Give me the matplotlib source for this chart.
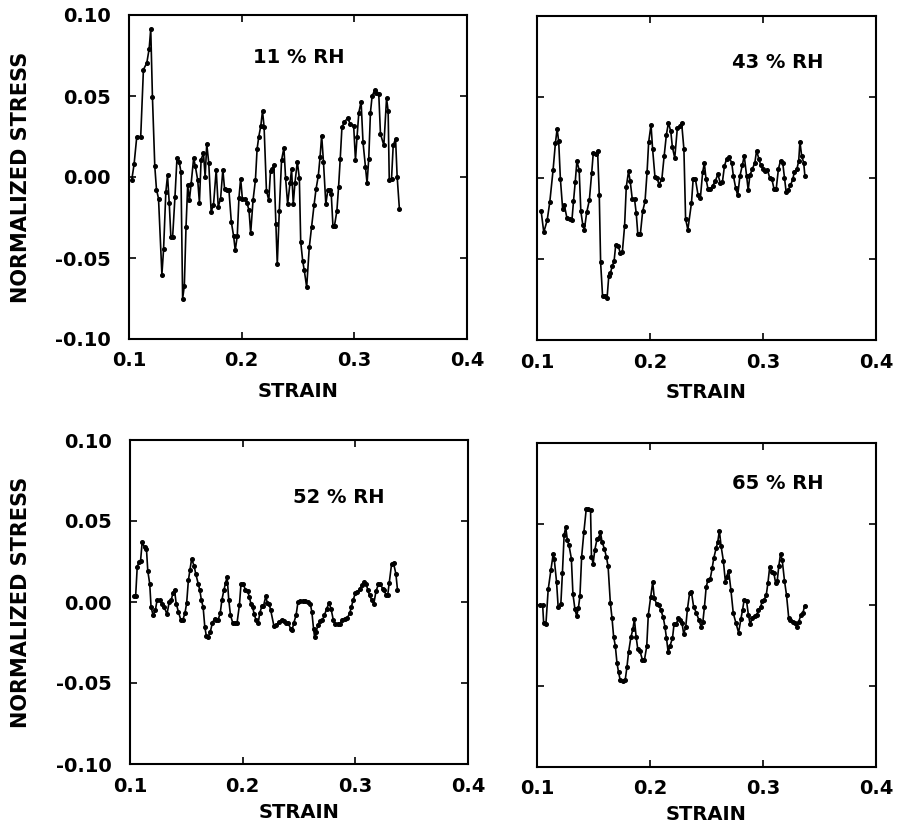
import matplotlib
matplotlib.use("Agg")
import matplotlib.pyplot as plt
from matplotlib.ticker import FixedLocator, FixedFormatter

plt.rcParams['font.family'] = ['DejaVu Sans']
plt.rcParams['font.weight'] = 'bold'

# ---------------- data ----------------
strain_11 = [0.1024, 0.1045, 0.1069, 0.1104, 0.1128, 0.1158, 0.1179, 0.1193, 0.1208, 0.1229,
             0.1244, 0.1262, 0.1292, 0.1307, 0.1327, 0.1342, 0.1357, 0.1372, 0.1387, 0.1408,
             0.1426, 0.1446, 0.1461, 0.1476, 0.1491, 0.1506, 0.1521, 0.1536, 0.1551, 0.1574,
             0.1589, 0.1610, 0.1625, 0.1640, 0.1661, 0.1676, 0.1690, 0.1708, 0.1729, 0.1750,
             0.1774, 0.1792, 0.1813, 0.1833, 0.1848, 0.1869, 0.1887, 0.1908, 0.1929, 0.1943,
             0.1961, 0.1976, 0.1991, 0.2006, 0.2027, 0.2048, 0.2065, 0.2080, 0.2101, 0.2122,
             0.2137, 0.2152, 0.2170, 0.2185, 0.2199, 0.2220, 0.2241, 0.2256, 0.2271, 0.2286,
             0.2304, 0.2316, 0.2334, 0.2354, 0.2375, 0.2390, 0.2408, 0.2429, 0.2443, 0.2458,
             0.2473, 0.2494, 0.2512, 0.2524, 0.2542, 0.2556, 0.2577, 0.2600, 0.2620, 0.2643,
             0.2660, 0.2680, 0.2696, 0.2710, 0.2726, 0.2747, 0.2765, 0.2780, 0.2795, 0.2810,
             0.2824, 0.2845, 0.2860, 0.2875, 0.2890, 0.2910, 0.2940, 0.2964, 0.2994, 0.3010,
             0.3024, 0.3040, 0.3060, 0.3077, 0.3098, 0.3113, 0.3128, 0.3143, 0.3158, 0.3180,
             0.3196, 0.3217, 0.3232, 0.3262, 0.3286, 0.3300, 0.3310, 0.3330, 0.3345, 0.3366,
             0.3380, 0.3400]
stress_11 = [-0.0020, 0.0078, 0.0249, 0.0249, 0.0663, 0.0704, 0.0792, 0.0914, 0.0494, 0.0065,
             -0.0078, -0.0133, -0.0602, -0.0445, -0.0092, 0.0010, -0.0159, -0.0373, -0.0373, -0.0122,
             0.0118, 0.0092, 0.0031, -0.0751, -0.0673, -0.0310, -0.0051, -0.0143, -0.0045, 0.0118,
             0.0065, -0.0020, -0.0159, 0.0108, 0.0147, 0.0000, 0.0204, 0.0086, -0.0214, -0.0173,
             0.0045, -0.0184, -0.0133, 0.0045, -0.0071, -0.0082, -0.0082, -0.0276, -0.0367, -0.0453,
             -0.0363, -0.0127, -0.0010, -0.0133, -0.0133, -0.0163, -0.0204, -0.0347, -0.0143, -0.0020,
             0.0173, 0.0249, 0.0316, 0.0408, 0.0310, -0.0086, -0.0143, 0.0040, 0.0050, 0.0073,
             -0.0290, -0.0540, -0.0210, 0.0104, 0.0180, -0.0008, -0.0167, -0.0035, 0.0047, -0.0167,
             -0.0035, 0.0094, -0.0008, -0.0400, -0.0520, -0.0577, -0.0680, -0.0435, -0.0310, -0.0170,
             -0.0075, 0.0006, 0.0124, 0.0256, 0.0094, -0.0167, -0.0079, -0.0079, -0.0104, -0.0300,
             -0.0300, -0.0210, -0.0063, 0.0114, 0.0307, 0.0337, 0.0364, 0.0327, 0.0317, 0.0104,
             0.0246, 0.0398, 0.0465, 0.0215, 0.0063, -0.0039, 0.0114, 0.0398, 0.0500, 0.0535,
             0.0520, 0.0510, 0.0266, 0.0195, 0.0486, 0.0408, -0.0018, -0.0014, 0.0195, 0.0236,
             0.0002, -0.0197]

strain_43 = [0.1037, 0.1060, 0.1090, 0.1113, 0.1142, 0.1163, 0.1178, 0.1192, 0.1207, 0.1227,
             0.1241, 0.1265, 0.1288, 0.1309, 0.1323, 0.1338, 0.1353, 0.1373, 0.1388, 0.1405,
             0.1419, 0.1440, 0.1463, 0.1484, 0.1498, 0.1519, 0.1536, 0.1551, 0.1563, 0.1580,
             0.1600, 0.1620, 0.1635, 0.1650, 0.1667, 0.1682, 0.1697, 0.1717, 0.1738, 0.1755,
             0.1775, 0.1790, 0.1810, 0.1825, 0.1843, 0.1863, 0.1878, 0.1892, 0.1915, 0.1935,
             0.1956, 0.1974, 0.1988, 0.2009, 0.2023, 0.2044, 0.2061, 0.2081, 0.2105, 0.2125,
             0.2145, 0.2163, 0.2184, 0.2198, 0.2219, 0.2242, 0.2262, 0.2280, 0.2300, 0.2315,
             0.2335, 0.2367, 0.2382, 0.2402, 0.2426, 0.2446, 0.2466, 0.2481, 0.2496, 0.2513,
             0.2534, 0.2554, 0.2577, 0.2601, 0.2621, 0.2641, 0.2659, 0.2679, 0.2699, 0.2723,
             0.2738, 0.2758, 0.2776, 0.2796, 0.2817, 0.2834, 0.2855, 0.2869, 0.2884, 0.2905,
             0.2928, 0.2943, 0.2963, 0.2980, 0.3001, 0.3021, 0.3039, 0.3059, 0.3079, 0.3097,
             0.3117, 0.3137, 0.3155, 0.3175, 0.3190, 0.3205, 0.3225, 0.3243, 0.3263, 0.3278,
             0.3301, 0.3316, 0.3327, 0.3342, 0.3360, 0.3371]
stress_43 = [-0.0206, -0.0335, -0.0261, -0.0150, 0.0047, 0.0216, 0.0302, 0.0226, -0.0006, -0.0191,
             -0.0165, -0.0247, -0.0253, -0.0261, -0.0144, -0.0027, 0.0103, 0.0051, -0.0206, -0.0288,
             -0.0319, -0.0212, -0.0138, 0.0031, 0.0154, 0.0150, 0.0169, -0.0103, -0.0521, -0.0726,
             -0.0730, -0.0741, -0.0607, -0.0586, -0.0541, -0.0514, -0.0412, -0.0418, -0.0463, -0.0459,
             -0.0298, -0.0056, 0.0041, -0.0021, -0.0130, -0.0130, -0.0216, -0.0344, -0.0344, -0.0206,
             -0.0144, 0.0035, 0.0220, 0.0329, 0.0179, 0.0006, 0.0000, -0.0041, -0.0006, 0.0134,
             0.0267, 0.0340, 0.0288, 0.0191, 0.0123, 0.0309, 0.0319, 0.0340, 0.0179, -0.0253,
             -0.0319, -0.0154, -0.0008, -0.0008, -0.0108, -0.0122, 0.0037, 0.0091, -0.0008, -0.0066,
             -0.0066, -0.0050, -0.0019, 0.0023, -0.0029, -0.0025, 0.0075, 0.0120, 0.0127, 0.0095,
             0.0012, -0.0060, -0.0108, 0.0012, 0.0079, 0.0137, 0.0012, -0.0075, 0.0017, 0.0054,
             0.0095, 0.0168, 0.0120, 0.0079, 0.0054, 0.0044, 0.0050, 0.0002, -0.0008, -0.0066,
             -0.0066, 0.0058, 0.0106, 0.0091, 0.0002, -0.0087, -0.0071, -0.0046, -0.0008, 0.0037,
             0.0058, 0.0106, 0.0224, 0.0137, 0.0095, 0.0012]

strain_52 = [0.1035, 0.1050, 0.1064, 0.1079, 0.1094, 0.1108, 0.1129, 0.1146, 0.1158, 0.1175,
             0.1187, 0.1205, 0.1225, 0.1240, 0.1263, 0.1284, 0.1304, 0.1328, 0.1348, 0.1366,
             0.1380, 0.1395, 0.1410, 0.1430, 0.1450, 0.1468, 0.1488, 0.1503, 0.1518, 0.1532,
             0.1547, 0.1568, 0.1585, 0.1605, 0.1620, 0.1634, 0.1649, 0.1664, 0.1678, 0.1693,
             0.1713, 0.1731, 0.1751, 0.1766, 0.1781, 0.1801, 0.1816, 0.1833, 0.1848, 0.1862,
             0.1877, 0.1892, 0.1912, 0.1933, 0.1950, 0.1971, 0.1985, 0.2006, 0.2024, 0.2044,
             0.2059, 0.2073, 0.2088, 0.2103, 0.2117, 0.2138, 0.2152, 0.2170, 0.2184, 0.2205,
             0.2219, 0.2234, 0.2249, 0.2278, 0.2298, 0.2322, 0.2346, 0.2366, 0.2386, 0.2404,
             0.2425, 0.2439, 0.2454, 0.2474, 0.2491, 0.2512, 0.2532, 0.2556, 0.2579, 0.2600,
             0.2614, 0.2629, 0.2638, 0.2653, 0.2667, 0.2688, 0.2708, 0.2725, 0.2746, 0.2767,
             0.2784, 0.2804, 0.2819, 0.2842, 0.2863, 0.2883, 0.2907, 0.2930, 0.2951, 0.2965,
             0.2980, 0.3000, 0.3018, 0.3039, 0.3059, 0.3076, 0.3096, 0.3111, 0.3126, 0.3147,
             0.3164, 0.3184, 0.3205, 0.3223, 0.3243, 0.3258, 0.3272, 0.3287, 0.3301, 0.3322,
             0.3339, 0.3360, 0.3374]
stress_52 = [0.0035, 0.0035, 0.0215, 0.0246, 0.0256, 0.0369, 0.0338, 0.0328, 0.0191, 0.0113,
             -0.0031, -0.0082, -0.0051, 0.0010, 0.0010, -0.0014, -0.0031, -0.0076, 0.0000, 0.0010,
             0.0055, 0.0076, -0.0010, -0.0061, -0.0109, -0.0113, -0.0068, -0.0006, 0.0133, 0.0199,
             0.0266, 0.0225, 0.0170, 0.0113, 0.0072, 0.0010, -0.0031, -0.0154, -0.0211, -0.0215,
             -0.0184, -0.0129, -0.0102, -0.0113, -0.0113, -0.0068, 0.0014, 0.0072, 0.0117, 0.0154,
             0.0010, -0.0082, -0.0129, -0.0129, -0.0129, -0.0020, 0.0109, 0.0109, 0.0076, 0.0068,
             0.0031, -0.0010, -0.0031, -0.0076, -0.0109, -0.0129, -0.0068, -0.0027, -0.0027, 0.0035,
             -0.0006, -0.0010, -0.0051, -0.0150, -0.0143, -0.0123, -0.0109, -0.0117, -0.0129, -0.0129,
             -0.0164, -0.0174, -0.0129, -0.0082, 0.0000, 0.0006, 0.0006, 0.0006, 0.0000, -0.0010,
             -0.0061, -0.0164, -0.0215, -0.0184, -0.0143, -0.0117, -0.0113, -0.0082, -0.0041, -0.0006,
             -0.0041, -0.0109, -0.0133, -0.0137, -0.0133, -0.0109, -0.0102, -0.0096, -0.0068, -0.0031,
             0.0010, 0.0055, 0.0061, 0.0082, 0.0102, 0.0123, 0.0109, 0.0076, 0.0041, 0.0010,
             -0.0010, 0.0068, 0.0109, 0.0109, 0.0082, 0.0072, 0.0041, 0.0041, 0.0117, 0.0236,
             0.0240, 0.0174, 0.0076]

strain_65 = [0.1029, 0.1050, 0.1059, 0.1079, 0.1099, 0.1123, 0.1143, 0.1152, 0.1173, 0.1187,
             0.1211, 0.1225, 0.1240, 0.1254, 0.1269, 0.1283, 0.1304, 0.1318, 0.1336, 0.1351,
             0.1366, 0.1380, 0.1395, 0.1415, 0.1436, 0.1453, 0.1474, 0.1482, 0.1497, 0.1511,
             0.1532, 0.1547, 0.1561, 0.1576, 0.1596, 0.1614, 0.1629, 0.1649, 0.1664, 0.1678,
             0.1693, 0.1708, 0.1722, 0.1737, 0.1757, 0.1781, 0.1796, 0.1810, 0.1831, 0.1848,
             0.1862, 0.1877, 0.1892, 0.1912, 0.1933, 0.1950, 0.1971, 0.1985, 0.2006, 0.2024,
             0.2038, 0.2059, 0.2079, 0.2096, 0.2117, 0.2132, 0.2146, 0.2161, 0.2175, 0.2199,
             0.2213, 0.2234, 0.2249, 0.2269, 0.2283, 0.2298, 0.2316, 0.2331, 0.2351, 0.2366,
             0.2386, 0.2409, 0.2433, 0.2453, 0.2468, 0.2482, 0.2497, 0.2512, 0.2532, 0.2550,
             0.2564, 0.2585, 0.2600, 0.2614, 0.2629, 0.2649, 0.2667, 0.2678, 0.2696, 0.2716,
             0.2737, 0.2760, 0.2784, 0.2804, 0.2819, 0.2833, 0.2854, 0.2871, 0.2886, 0.2906,
             0.2927, 0.2945, 0.2959, 0.2980, 0.2994, 0.3009, 0.3029, 0.3044, 0.3059, 0.3076,
             0.3097, 0.3111, 0.3126, 0.3140, 0.3155, 0.3170, 0.3190, 0.3208, 0.3228, 0.3243,
             0.3263, 0.3281, 0.3301, 0.3316, 0.3336, 0.3354, 0.3368]
stress_65 = [0.0000, 0.0000, -0.0113, -0.0117, 0.0096, 0.0215, 0.0314, 0.0287, 0.0143, -0.0010,
             0.0006, 0.0199, 0.0430, 0.0482, 0.0400, 0.0369, 0.0287, 0.0068, -0.0027, -0.0068,
             -0.0020, 0.0055, 0.0297, 0.0451, 0.0594, 0.0594, 0.0584, 0.0297, 0.0256, 0.0338,
             0.0410, 0.0416, 0.0451, 0.0389, 0.0348, 0.0297, 0.0240, 0.0014, -0.0082, -0.0195,
             -0.0252, -0.0359, -0.0416, -0.0465, -0.0471, -0.0461, -0.0383, -0.0293, -0.0199, -0.0150,
             -0.0088, -0.0195, -0.0273, -0.0287, -0.0338, -0.0342, -0.0256, -0.0061, 0.0047, 0.0143,
             0.0041, 0.0006, 0.0000, -0.0031, -0.0076, -0.0133, -0.0205, -0.0293, -0.0256, -0.0205,
             -0.0117, -0.0117, -0.0082, -0.0092, -0.0109, -0.0178, -0.0137, -0.0027, 0.0076, 0.0082,
             -0.0010, -0.0047, -0.0093, -0.0134, -0.0103, -0.0010, 0.0109, 0.0154, 0.0158, 0.0226,
             0.0288, 0.0350, 0.0391, 0.0459, 0.0364, 0.0274, 0.0144, 0.0175, 0.0212, 0.0093,
             -0.0051, -0.0109, -0.0171, -0.0088, -0.0031, 0.0031, 0.0027, -0.0062, -0.0117, -0.0082,
             -0.0068, -0.0062, -0.0031, -0.0010, 0.0027, 0.0031, 0.0062, 0.0138, 0.0233, 0.0206,
             0.0195, 0.0138, 0.0150, 0.0241, 0.0315, 0.0278, 0.0150, 0.0062, -0.0082, -0.0093,
             -0.0103, -0.0109, -0.0138, -0.0103, -0.0062, -0.0047, -0.0006]

panel_labels = ["11 % RH", "43 % RH", "52 % RH", "65 % RH"]
label_pos = [(0.251, 0.0735), (0.313, 0.071), (0.285, 0.0646), (0.313, 0.0753)]
x_ticks = [0.1, 0.2, 0.3, 0.4]
x_tick_labels = ["0.1", "0.2", "0.3", "0.4"]
y_ticks = [-0.10, -0.05, 0.0, 0.05, 0.10]
y_tick_labels = ["-0.10", "-0.05", "0.00", "0.05", "0.10"]

series = [(strain_11, stress_11), (strain_43, stress_43),
          (strain_52, stress_52), (strain_65, stress_65)]

# ---------------- figure ----------------
W, H = 899, 833
fig = plt.figure(figsize=(W / 100, H / 100), dpi=100)

# axes boxes in pixel coords: left, right, top, bottom
boxes = [(129, 467, 15, 339), (537, 876, 16, 340),
         (130, 468, 440, 764), (537, 876, 443, 767)]
xlabel_off = [52, 52, 48, 48]

FS = 14
for i, ((l, r, t, b), (xs, ys)) in enumerate(zip(boxes, series)):
    ax = fig.add_axes([l / W, 1 - b / H, (r - l) / W, (b - t) / H])
    ax.plot(xs, ys, color='black', lw=1.2, marker='o', ms=2.6, mfc='black', mec='black')
    ax.set_xlim(0.1, 0.4)
    ax.set_ylim(-0.1, 0.1)
    ax.xaxis.set_major_locator(FixedLocator(x_ticks))
    ax.xaxis.set_major_formatter(FixedFormatter(x_tick_labels))
    ax.yaxis.set_major_locator(FixedLocator(y_ticks))
    ax.yaxis.set_major_formatter(FixedFormatter(y_tick_labels))
    ax.tick_params(direction='in', top=True, right=True, length=5, width=1.2,
                   labelsize=FS)
    ax.tick_params(axis='x', pad=9)
    ax.tick_params(axis='y', pad=13)
    if i % 2 == 1:
        ax.tick_params(axis='y', labelleft=False)
    for s in ax.spines.values():
        s.set_linewidth(1.5)
    for lab in ax.get_xticklabels() + ax.get_yticklabels():
        lab.set_fontweight('bold')
    ax.text(label_pos[i][0], label_pos[i][1], panel_labels[i], ha='center', va='center',
            fontsize=FS, fontweight='bold')
    # STRAIN label
    fig.text(((l + r) / 2) / W, 1 - (b + xlabel_off[i]) / H, "STRAIN", ha='center',
             va='center', fontsize=FS, fontweight='bold')
    if i % 2 == 0:
        fig.text(21 / W, 1 - ((t + b) / 2) / H, "NORMALIZED STRESS", rotation=90,
                 ha='center', va='center', fontsize=15, fontweight='bold')

fig.savefig("out.png", dpi=100, facecolor='white')
